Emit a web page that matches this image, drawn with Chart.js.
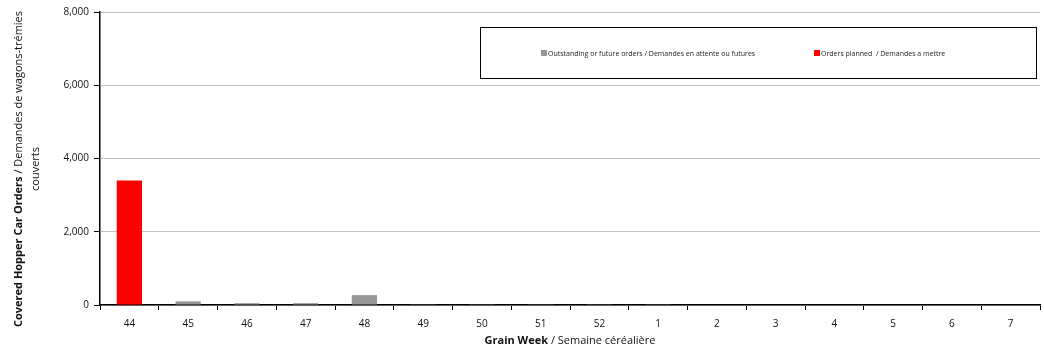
<!DOCTYPE html>
<html><head><meta charset="utf-8">
<script src="https://cdn.jsdelivr.net/npm/chart.js@4/dist/chart.umd.min.js"></script>
<style>html,body{margin:0;padding:0;background:#fff}#wrap{width:1044px;height:354px}</style>
</head><body><div id="wrap"><canvas id="c" width="1044" height="354"></canvas></div>
<script>
const categories = ["44","45","46","47","48","49","50","51","52","1","2","3","4","5","6","7"];
const outstanding = [0,100,50,50,270,20,20,20,20,20,0,0,0,0,0,0];
const planned = [3400,0,0,0,0,0,0,0,0,0,0,0,0,0,0,0];
const seriesLabels = ["Outstanding or future orders / Demandes en attente ou futures","Orders planned  / Demandes a mettre"];
const yTitleBold = "Covered Hopper Car Orders";
const yTitleRest = " / Demandes de wagons-trémies";
const yTitleLine2 = "couverts";
const xTitleBold = "Grain Week";
const xTitleRest = " / Semaine céréalière";
const FONT = "'Open Sans',sans-serif";

const overlay = {
  id:'overlay',
  afterDraw(chart){
    const ctx = chart.ctx, a = chart.chartArea;
    ctx.save();
    // legend box
    ctx.strokeStyle = '#000'; ctx.lineWidth = 1;
    ctx.strokeRect(480.5, 27.5, 556, 51);
    ctx.font = "7px " + FONT; ctx.textBaseline = 'middle'; ctx.textAlign='left';
    const items = [{x:541, ds:0},{x:814, ds:1}];
    items.forEach(it=>{
      const ds = chart.data.datasets[it.ds];
      ctx.fillStyle = ds.backgroundColor; ctx.fillRect(it.x, 50, 6, 6);
      ctx.fillStyle = '#222'; ctx.fillText(ds.label, it.x+7, 53.5);
    });
    // x title
    ctx.font = "bold 11px " + FONT;
    const wb = ctx.measureText(xTitleBold).width;
    ctx.font = "11px " + FONT;
    const wr = ctx.measureText(xTitleRest).width;
    let sx = (a.left + a.right)/2 - (wb+wr)/2;
    ctx.fillStyle = '#111'; ctx.textBaseline='middle';
    ctx.font = "bold 11px " + FONT; ctx.fillText(xTitleBold, sx, 341);
    ctx.font = "11px " + FONT; ctx.fillText(xTitleRest, sx+wb, 341);
    // y title
    ctx.translate(19, 169);
    ctx.rotate(-Math.PI/2);
    ctx.font = "bold 11px " + FONT;
    const yb = ctx.measureText(yTitleBold).width;
    ctx.font = "11px " + FONT;
    const yr = ctx.measureText(yTitleRest).width;
    let sy = -(yb+yr)/2;
    ctx.font = "bold 11px " + FONT; ctx.textAlign='left'; ctx.fillText(yTitleBold, sy, 0);
    ctx.font = "11px " + FONT; ctx.fillText(yTitleRest, sy+yb, 0);
    ctx.textAlign='center'; ctx.fillText(yTitleLine2, 0, 17);
    ctx.restore();
  }
};

new Chart(document.getElementById('c'), {
  type:'bar',
  data:{labels:categories, datasets:[
    {label:seriesLabels[0], data:outstanding, backgroundColor:'#969696', borderWidth:0},
    {label:seriesLabels[1], data:planned, backgroundColor:'#ff0000', borderWidth:0}
  ]},
  options:{
    responsive:false, animation:false, devicePixelRatio:1,
    layout:{padding:{left:0, right:4, top:12, bottom:0}},
    categoryPercentage:0.86, barPercentage:0.5,
    plugins:{legend:{display:false}, tooltip:{enabled:false}},
    scales:{
      x:{stacked:true, offset:true,
        grid:{display:true, drawOnChartArea:false, offset:true, tickLength:5, color:'#000'},
        border:{color:'#000', width:1.5},
        ticks:{font:{family:FONT, size:10}, color:'#111', padding:8, maxRotation:0},
        afterFit(s){ s.height = 49; }
      },
      y:{stacked:true, min:0, max:8000,
        grid:{color:'#c0c0c0', tickLength:6, tickColor:'#000'},
        border:{color:'#000', width:1.5},
        ticks:{stepSize:2000, font:{family:FONT, size:10}, color:'#111', padding:5,
          callback:v=>v.toLocaleString('en-US')},
        afterFit(s){ s.width = 100; }
      }
    }
  },
  plugins:[overlay]
});
</script></body></html>
